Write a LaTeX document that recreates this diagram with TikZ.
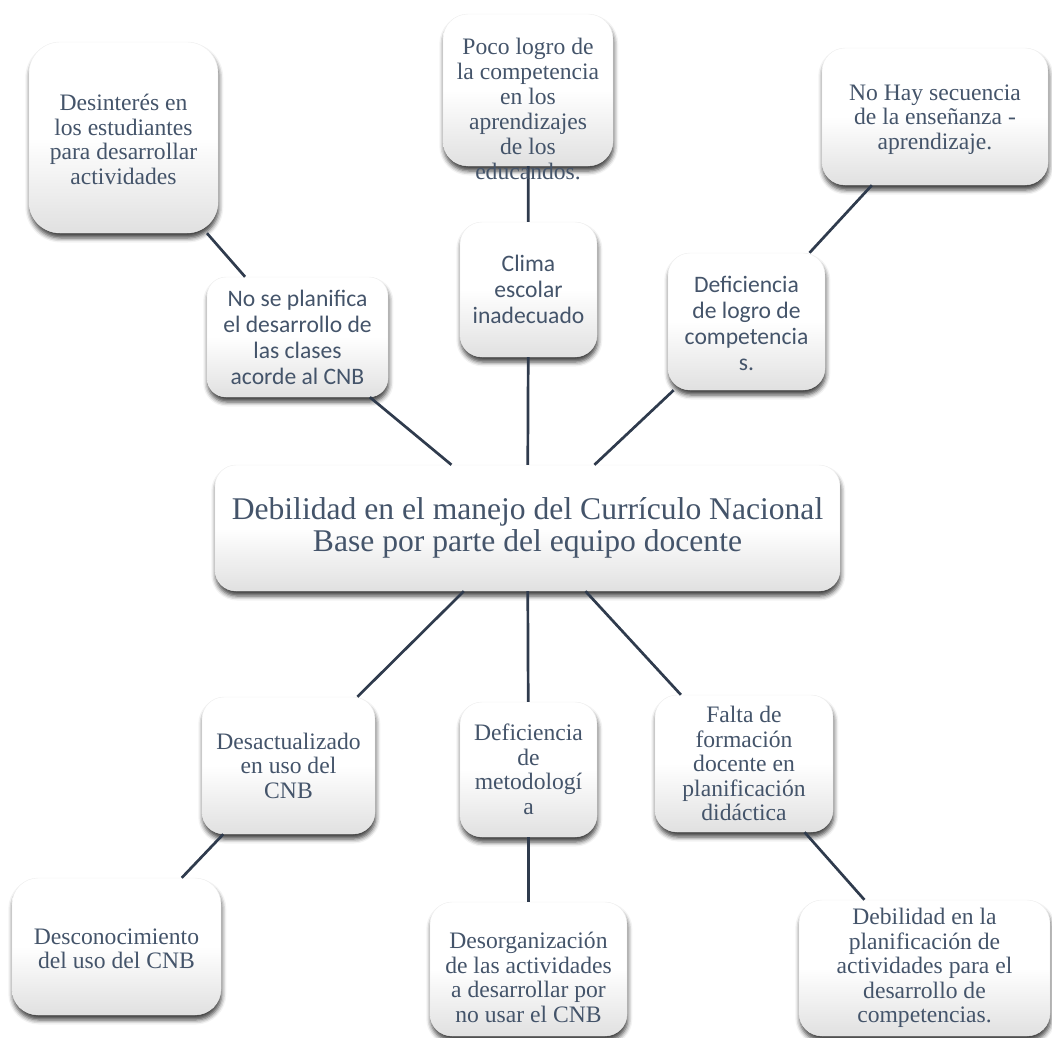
\documentclass[tikz,border=0pt]{standalone}
\usepackage{fontspec}
\setmainfont{Liberation Serif}
\newfontfamily\calfont{Carlito}
\usetikzlibrary{shadows.blur}
\definecolor{txtc}{HTML}{44546A}
\definecolor{linec}{HTML}{2F3B4D}
\tikzset{
  box/.style={top color=white, bottom color=black!12, middle color=white,
    draw=black!7, line width=0.4pt,
    blur shadow={shadow xshift=0.8pt, shadow yshift=-5pt, shadow blur radius=4.5pt, shadow opacity=75},
    inner sep=0pt, text=txtc, align=center},
  tnr/.style={font=\fontsize{23.6pt}{24.5pt}\selectfont},
  cal/.style={font=\calfont\fontsize{23.6pt}{26pt}\selectfont},
  conn/.style={draw=linec, line width=2.7pt},
}
\begin{document}
\begin{tikzpicture}[x=1pt,y=-1pt]
\useasboundingbox (0,0) rectangle (1052,1038);
% top row
\node[box,tnr,minimum width=189pt,minimum height=191pt,rounded corners=31pt] (des) at (123.5,137.5)
  {\rule{0pt}{20pt}Desinterés en\\los estudiantes\\para desarrollar\\actividades};
\node[box,minimum width=170pt,minimum height=152pt,rounded corners=25pt] (poco) at (528,90) {};
\node[box,tnr,minimum width=226pt,minimum height=137pt,rounded corners=23pt] (nohay) at (935,116.5)
  {\rule{0pt}{22pt}No Hay secuencia\\de la enseñanza -\\aprendizaje.};
% second row
\node[box,cal,minimum width=181pt,minimum height=120pt,rounded corners=19pt] (noplan) at (297.5,337)
  {No se planifica\\el desarrollo de\\las clases\\acorde al CNB};
\node[box,cal,minimum width=137pt,minimum height=135pt,rounded corners=22pt] (clima) at (528.5,289.5)
  {Clima\\escolar\\inadecuado};
\node[box,cal,minimum width=157pt,minimum height=137pt,rounded corners=22pt] (deflog) at (746.5,321.5)
  {\rule{0pt}{20pt}Deficiencia\\de logro de\\competencia\\s.};
% central
\node[box,font=\fontsize{31.6pt}{32.5pt}\selectfont,minimum width=625pt,minimum height=126pt,rounded corners=21pt] (central) at (527.5,528)
  {Debilidad en el manejo del Currículo Nacional\\Base por parte del equipo docente};
% lower row
\node[box,tnr,minimum width=173pt,minimum height=137pt,rounded corners=22pt] (desact) at (288.5,765.5)
  {Desactualizado\\en uso del\\CNB};
\node[box,tnr,minimum width=137pt,minimum height=135pt,rounded corners=22pt] (metod) at (528.5,769.5)
  {Deficiencia\\de\\metodologí\\a};
\node[box,tnr,minimum width=178pt,minimum height=137pt,rounded corners=22pt] (falta) at (744,763.5)
  {Falta de\\formación\\docente en\\planificación\\didáctica};
% bottom row
\node[box,tnr,minimum width=209pt,minimum height=137pt,rounded corners=26pt] (descon) at (116.5,946.5)
  {\rule{0pt}{20pt}Desconocimiento\\del uso del CNB};
\node[box,tnr,minimum width=197pt,minimum height=134pt,rounded corners=22pt] (desorg) at (528.5,969)
  {\rule{0pt}{33pt}Desorganización\\de las actividades\\a desarrollar por\\no usar el CNB};
\node[box,tnr,minimum width=251pt,minimum height=136pt,rounded corners=23pt] (debpl) at (924.5,968)
  {Debilidad en la\\planificación de\\actividades para el\\desarrollo de\\competencias.};
% connectors
\draw[conn] (des) -- (noplan);
\draw[conn] (noplan) -- (central);
\draw[conn] (poco) -- (clima);
\draw[conn] (clima) -- (central);
\draw[conn] (nohay) -- (deflog);
\draw[conn] (deflog) -- (central);
\draw[conn] (central) -- (desact);
\draw[conn] (central) -- (metod);
\draw[conn] (central) -- (falta);
\draw[conn] (desact) -- (descon);
\draw[conn] (metod) -- (desorg);
\draw[conn] (falta) -- (debpl);
% overflowing text of the top middle box
\node[text=txtc,align=center,inner sep=0pt,font=\fontsize{23.6pt}{25pt}\selectfont] (pocotext) at (528,108.5)
  {Poco logro de\\la competencia\\en los\\aprendizajes\\de los\\educandos.};
\end{tikzpicture}
\end{document}
